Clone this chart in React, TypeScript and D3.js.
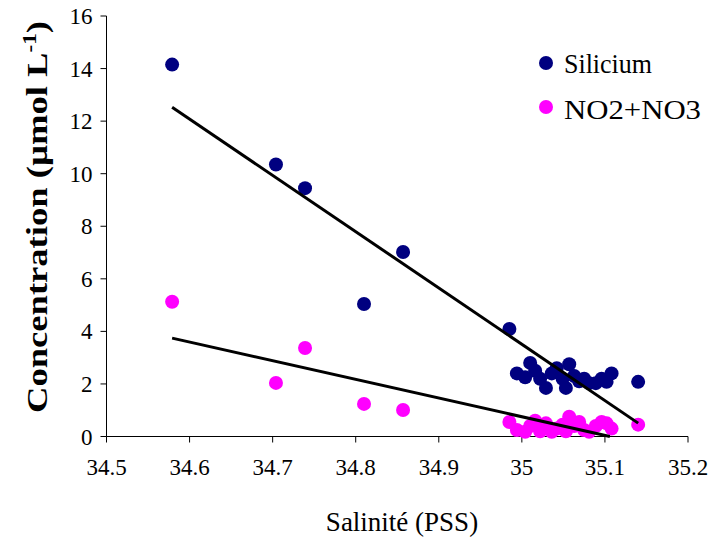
import React from "react";
import * as d3 from "d3";

const salinity = [34.579, 34.704, 34.739, 34.81, 34.857, 34.985, 34.994, 35.004, 35.01, 35.016, 35.022, 35.029, 35.036, 35.042, 35.049, 35.053, 35.057, 35.063, 35.069, 35.075, 35.081, 35.089, 35.096, 35.102, 35.108, 35.14];
const silicium = [14.15, 10.35, 9.45, 5.04, 7.02, 4.09, 2.4, 2.25, 2.8, 2.5, 2.2, 1.85, 2.4, 2.6, 2.2, 1.85, 2.75, 2.3, 2.1, 2.2, 2.03, 2.03, 2.2, 2.08, 2.4, 2.08];
const nitrate = [5.13, 2.04, 3.37, 1.24, 1.01, 0.55, 0.25, 0.18, 0.4, 0.6, 0.2, 0.5, 0.18, 0.3, 0.45, 0.2, 0.75, 0.4, 0.55, 0.25, 0.18, 0.4, 0.55, 0.5, 0.3, 0.45];
const xTicks = [34.5, 34.6, 34.7, 34.8, 34.9, 35, 35.1, 35.2];
const yTicks = [0, 2, 4, 6, 8, 10, 12, 14, 16];
const seriesNames = ["Silicium", "NO2+NO3"];
const seriesColors = ["#000080", "#FF00FF"];

function fit(xs: number[], ys: number[]) {
  const mx = d3.mean(xs)!;
  const my = d3.mean(ys)!;
  let sxy = 0, sxx = 0;
  xs.forEach((x, i) => { sxy += (x - mx) * (ys[i] - my); sxx += (x - mx) ** 2; });
  const b = sxy / sxx;
  return { b, a: my - b * mx };
}

const FONT = "Liberation Serif";

export default function App() {
  const W = 712, H = 540;
  const left = 106.5, right = 688, top = 16, bottom = 436.5;
  const x = d3.scaleLinear().domain([34.5, 35.2]).range([left, right]);
  const y = d3.scaleLinear().domain([0, 16]).range([bottom, top]);
  const series = [silicium, nitrate];
  const legendWidths = [88, 137];

  const trend = series.map((ys) => {
    const { a, b } = fit(salinity, ys);
    const x0 = d3.min(salinity)!;
    let x1 = d3.max(salinity)!;
    if (a + b * x1 < 0) x1 = -a / b;
    return { x0, y0: a + b * x0, x1, y1: a + b * x1 };
  });

  return (
    <div style={{ fontFamily: FONT, position: "absolute", left: 0, top: 0 }}>
      <svg width={W} height={H} style={{ display: "block", background: "#fff" }}>
        <g>
          <line x1={left} x2={left} y1={top} y2={bottom} stroke="#000" strokeWidth={1} />
          <line x1={left} x2={right} y1={bottom} y2={bottom} stroke="#000" strokeWidth={1} />
          {yTicks.map((t) => (
            <line key={"yt" + t} x1={left - 6} x2={left} y1={y(t)} y2={y(t)} stroke="#000" />
          ))}
          {xTicks.map((t) => (
            <line key={"xt" + t} x1={x(t)} x2={x(t)} y1={bottom} y2={bottom + 6} stroke="#000" />
          ))}
        </g>
        {series.map((ys, si) => (
          <g key={"s" + si}>
            {salinity.map((sx, i) => (
              <circle key={i} cx={x(sx)} cy={y(ys[i])} r={7} fill={seriesColors[si]} />
            ))}
          </g>
        ))}
        {trend.map((t, i) => (
          <line key={"t" + i} x1={x(t.x0)} y1={y(t.y0)} x2={x(t.x1)} y2={y(t.y1)} stroke="#000" strokeWidth={3} />
        ))}
        {seriesNames.map((n, i) => (
          <circle key={"lc" + i} cx={546} cy={63 + i * 44} r={7} fill={seriesColors[i]} />
        ))}
        <g fontFamily={FONT} fontWeight="normal">
          {yTicks.map((t) => (
            <text key={"yl" + t} x={left - 14} y={y(t) + 8} textAnchor="end" fontSize={23}>{String(t)}</text>
          ))}
          {xTicks.map((t) => (
            <text key={"xl" + t} x={x(t)} y={bottom + 38} textAnchor="middle" fontSize={23}>{String(t)}</text>
          ))}
          {seriesNames.map((n, i) => (
            <text key={"lt" + i} x={564} y={73 + i * 46} fontSize={27} textLength={legendWidths[i]} lengthAdjust="spacingAndGlyphs">{n}</text>
          ))}
          <text x={402} y={531} textAnchor="middle" fontSize={27}>Salinité (PSS)</text>
        </g>
        <g transform={`translate(47, 217) rotate(-90) scale(1.22, 1)`}>
          <text fontFamily={FONT} textAnchor="middle" fontSize={30} fontWeight="bold">
            Concentration (µmol L<tspan dy={-11} fontSize={19}>-1</tspan><tspan dy={11}>)</tspan>
          </text>
        </g>
      </svg>
    </div>
  );
}
